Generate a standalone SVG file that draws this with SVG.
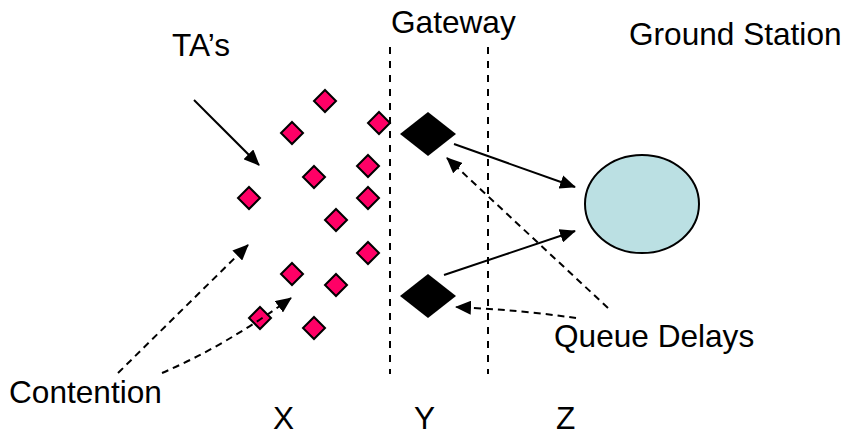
<svg xmlns="http://www.w3.org/2000/svg" width="846" height="436" viewBox="0 0 846 436">
<defs>
<style>
text{font-family:"Liberation Sans",Arial,sans-serif;font-size:31.6px;fill:#000}
.ta{fill:#FF0066;stroke:#000;stroke-width:2}
.gw{fill:#000;stroke:none}
.sep{stroke:#000;stroke-width:2;stroke-dasharray:7 7;fill:none}
.sol{stroke:#000;stroke-width:2;fill:none;marker-end:url(#ah)}
.dsh{stroke:#000;stroke-width:2;fill:none;stroke-dasharray:7 5;marker-end:url(#ah)}
</style>
<marker id="ah" markerUnits="userSpaceOnUse" markerWidth="16" markerHeight="14" refX="15" refY="7" orient="auto" viewBox="0 0 16 14">
<path d="M0,0 L16,7 L0,14 z" fill="#000"/>
</marker>
<path id="d" d="M0,-11 L11,0 L0,11 L-11,0 Z"/>
</defs>
<rect width="846" height="436" fill="#fff"/>
<g id="separators">
<line class="sep" x1="390" y1="47" x2="390" y2="374"/>
<line class="sep" x1="488" y1="47" x2="488" y2="374"/>
</g>
<g id="tas">
<use href="#d" class="ta" x="325" y="101"/>
<use href="#d" class="ta" x="379" y="123"/>
<use href="#d" class="ta" x="292" y="133"/>
<use href="#d" class="ta" x="368" y="166"/>
<use href="#d" class="ta" x="314" y="177"/>
<use href="#d" class="ta" x="249" y="198"/>
<use href="#d" class="ta" x="368" y="198"/>
<use href="#d" class="ta" x="336" y="220"/>
<use href="#d" class="ta" x="368" y="253"/>
<use href="#d" class="ta" x="292" y="274"/>
<use href="#d" class="ta" x="336" y="285"/>
<use href="#d" class="ta" x="260" y="318"/>
<use href="#d" class="ta" x="314" y="328"/>
</g>
<g id="gateway-top"><path class="gw" d="M400,134 L428,112 L456,134 L428,156 Z"/></g>
<g id="gateway-bottom"><path class="gw" d="M400,296 L428,274 L456,296 L428,318 Z"/></g>
<g id="ground-station"><ellipse cx="642" cy="204" rx="57" ry="49" fill="#BBE0E3" stroke="#000" stroke-width="2"/></g>
<g id="connectors">
<line class="sol" x1="194" y1="100" x2="259" y2="165"/>
<line class="sol" x1="454" y1="144" x2="575" y2="187"/>
<line class="sol" x1="444" y1="275" x2="575" y2="231"/>
<line class="dsh" x1="608" y1="308" x2="447" y2="158"/>
<path class="dsh" d="M576,318 Q520,310 456,307"/>
<line class="dsh" x1="118" y1="373" x2="248" y2="245"/>
<path class="dsh" d="M162,373 Q225,346 291,298"/>
</g>
<g id="labels">
<text x="172" y="56">TA’s</text>
<text x="391" y="33">Gateway</text>
<text x="629" y="45">Ground Station</text>
<text x="554" y="347">Queue Delays</text>
<text x="9" y="403">Contention</text>
<text x="273" y="429">X</text>
<text x="414" y="429">Y</text>
<text x="556" y="429">Z</text>
</g>
</svg>
